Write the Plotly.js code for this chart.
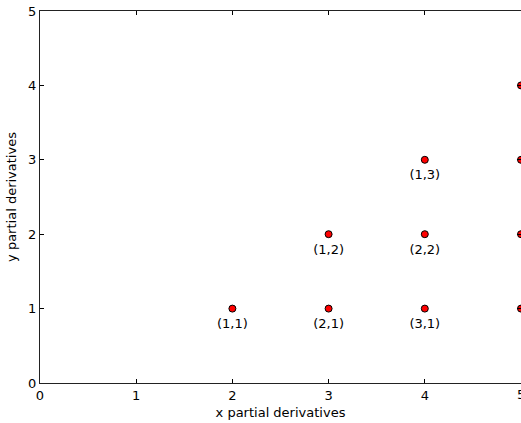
<!DOCTYPE html>
<html><head><meta charset="utf-8">
<script src="https://cdn.plot.ly/plotly-3.0.1.min.js"></script>
<style>html,body{margin:0;padding:0;background:#fff;}#chart{width:521px;height:423px;}</style>
</head><body><div id="chart"></div>
<script>
var xs = [2, 3, 4, 3, 4, 4, 5, 5, 5, 5];
var ys = [1, 1, 1, 2, 2, 3, 1, 2, 3, 4];
var labels = ['(1,1)', '(2,1)', '(3,1)', '(1,2)', '(2,2)', '(1,3)', '', '', '', ''];
var tickVals = [0, 1, 2, 3, 4, 5];

var font = {family: 'DejaVu Sans, sans-serif', size: 13, color: '#000'};
var pts = {
  x: xs, y: ys, mode: 'markers', type: 'scatter',
  marker: {color: '#ff0000', size: 7, line: {color: '#000', width: 1}},
  cliponaxis: false, hoverinfo: 'none'
};
var txt = {
  x: xs, y: ys, text: labels, mode: 'markers+text', type: 'scatter',
  textposition: 'bottom center', textfont: font,
  marker: {size: 14, opacity: 0},
  cliponaxis: false, hoverinfo: 'none'
};
var axisBase = {
  range: [0, 5], tickvals: tickVals, ticks: 'inside', ticklen: 4, tickwidth: 1,
  tickcolor: '#000', showline: true, linecolor: '#222', linewidth: 1, mirror: 'ticks',
  showgrid: false, zeroline: false, tickfont: font
};
var layout = {
  width: 521, height: 423,
  margin: {l: 40, r: 0, t: 11, b: 40},
  paper_bgcolor: '#fff', plot_bgcolor: '#fff',
  showlegend: false,
  font: font,
  xaxis: Object.assign({}, axisBase, {title: {text: 'x partial derivatives', font: font, standoff: 6}}),
  yaxis: Object.assign({}, axisBase, {title: {text: 'y partial derivatives', font: font, standoff: 8}}),
  annotations: [{
    x: tickVals[5], xref: 'x', y: 0, yref: 'paper', yanchor: 'top', yshift: -2,
    text: String(tickVals[5]), showarrow: false, font: font
  }]
};
Plotly.newPlot('chart', [pts, txt], layout, {displayModeBar: false, staticPlot: true});
</script></body></html>
